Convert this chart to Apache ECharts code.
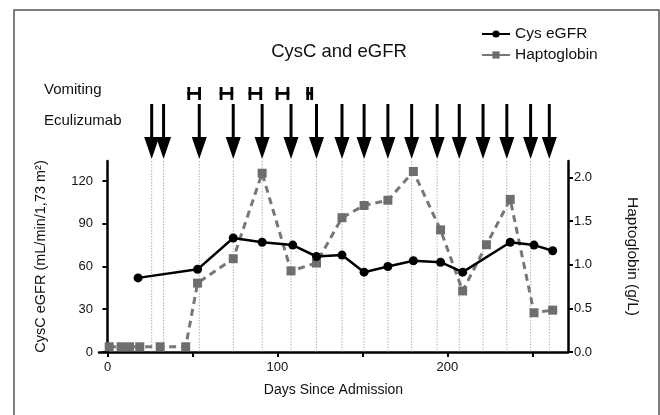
<!DOCTYPE html>
<html><head><meta charset="utf-8">
<script src="https://cdn.jsdelivr.net/npm/echarts@6/dist/echarts.min.js"></script>
<style>html,body{margin:0;padding:0;background:#fff}#c{width:660px;height:415px}</style>
</head><body><div id="c"></div>
<script>
var cysDays = [18, 53, 74, 91, 109, 123, 138, 151, 165, 180, 196, 209, 237, 251, 262];
var cysVals = [52, 58, 80, 77, 75, 67, 68, 56, 60, 64, 63, 56, 77, 75, 71];
var haptoDays = [1, 8, 13, 19, 31, 46, 53, 74, 91, 108, 123, 138, 151, 165, 180, 196, 209, 223, 237, 251, 262];
var haptoVals = [0.06, 0.06, 0.06, 0.06, 0.06, 0.06, 0.79, 1.07, 2.05, 0.93, 1.02, 1.54, 1.68, 1.74, 2.07, 1.40, 0.70, 1.23, 1.75, 0.45, 0.48];
var eculizumabDays = [26, 33, 54, 74, 91, 108, 123, 138, 151, 165, 179, 194, 207, 221, 235, 249, 260];
var vomitingStart = [47, 66, 83, 99, 117];
var vomitingEnd = [55, 74, 91, 107, 121];
var xTicks = [0, 50, 100, 150, 200, 250];
var xLabels = [0, 100, 200];
var leftTicks = [0, 30, 60, 90, 120];
var rightTicks = [0, 0.5, 1.0, 1.5, 2.0];

var FONT = 'Liberation Sans';
var chart = echarts.init(document.getElementById('c'));
var cysData = cysDays.map(function (d, i) { return [d, cysVals[i]]; });
var haptoData = haptoDays.map(function (d, i) { return [d, haptoVals[i]]; });
var vomData = vomitingStart.map(function (s, i) { return [s, vomitingEnd[i]]; });

chart.setOption({
  animation: false,
  textStyle: { fontFamily: FONT, color: '#111' },
  title: {
    text: 'CysC and eGFR', left: 334, top: 37, textAlign: 'center',
    textStyle: { fontFamily: FONT, fontSize: 18.5, fontWeight: 'normal', color: '#111' }
  },
  legend: {
    orient: 'vertical', left: 476, top: 21, itemWidth: 28, itemHeight: 9, itemGap: 5,
    textStyle: { fontFamily: FONT, fontSize: 15.5, color: '#111' },
    data: [
      { name: 'Cys eGFR' },
      { name: 'Haptoglobin', lineStyle: { type: 'solid' } }
    ]
  },
  graphic: [
    { type: 'rect', shape: { x: 14, y: 10, width: 645, height: 420 }, style: { fill: 'none', stroke: '#555', lineWidth: 1.5 }, silent: true },
    { type: 'text', left: 44, top: 82, style: { text: 'Vomiting', font: '15px "' + FONT + '"', fill: '#111' } },
    { type: 'text', left: 44, top: 113, style: { text: 'Eculizumab', font: '15px "' + FONT + '"', fill: '#111' } }
  ],
  grid: [
    { left: 99, right: 92, top: 161, bottom: 63 },
    { left: 99, right: 92, top: 80, height: 80 }
  ],
  xAxis: [
    {
      type: 'value', gridIndex: 0, min: -5, max: 271,
      name: 'Days Since Admission', nameLocation: 'middle', nameGap: 31,
      nameTextStyle: { fontFamily: FONT, fontSize: 14, color: '#111' },
      axisLine: { onZero: false, lineStyle: { color: '#000', width: 2.5 } },
      axisTick: { customValues: xTicks, length: 5, lineStyle: { color: '#000', width: 2 } },
      axisLabel: { customValues: xLabels, fontFamily: FONT, fontSize: 13, color: '#111', margin: 9 },
      splitLine: { show: false }
    },
    { type: 'value', gridIndex: 1, min: -5, max: 271, show: false }
  ],
  yAxis: [
    {
      type: 'value', gridIndex: 0, min: 0, max: 134,
      name: 'CysC eGFR (mL/min/1,73 m²)', nameLocation: 'middle', nameGap: 51,
      nameTextStyle: { fontFamily: FONT, fontSize: 14.5, color: '#111' },
      axisLine: { show: true, lineStyle: { color: '#000', width: 2.5 } },
      axisTick: { show: true, customValues: leftTicks, length: 5, lineStyle: { color: '#000', width: 2 } },
      axisLabel: { customValues: leftTicks, fontFamily: FONT, fontSize: 13, color: '#111', margin: 6 },
      splitLine: { show: false }
    },
    {
      type: 'value', gridIndex: 0, position: 'right', min: 0, max: 2.19,
      name: 'Haptoglobin (g/L)', nameLocation: 'middle', nameGap: 56, nameRotate: -90,
      nameTextStyle: { fontFamily: FONT, fontSize: 15.5, color: '#111' },
      axisLine: { show: true, lineStyle: { color: '#000', width: 2.5 } },
      axisTick: { show: true, customValues: rightTicks, length: 5, lineStyle: { color: '#000', width: 2 } },
      axisLabel: { customValues: rightTicks, fontFamily: FONT, fontSize: 13, color: '#111', margin: 6,
        formatter: function (v) { return v.toFixed(1); } },
      splitLine: { show: false }
    },
    { type: 'value', gridIndex: 1, min: 0, max: 1, show: false }
  ],
  series: [
    {
      type: 'custom', xAxisIndex: 0, yAxisIndex: 0, z: 1, silent: true,
      data: eculizumabDays.map(function (d) { return [d]; }),
      renderItem: function (params, api) {
        var x = api.coord([api.value(0), 0])[0];
        var y0 = api.coord([api.value(0), 0])[1];
        var y1 = api.coord([api.value(0), 134])[1];
        return { type: 'line', shape: { x1: x, y1: y1, x2: x, y2: y0 },
          style: { stroke: '#b0b0b0', lineWidth: 1, lineDash: [1.5, 1.5] } };
      }
    },
    {
      type: 'custom', xAxisIndex: 1, yAxisIndex: 2, silent: true,
      data: eculizumabDays.map(function (d) { return [d]; }),
      renderItem: function (params, api) {
        var p = api.coord([api.value(0), 0]);
        var x = p[0], b = p[1];
        return { type: 'group', children: [
          { type: 'rect', shape: { x: x - 1.5, y: b - 56, width: 3, height: 36 }, style: { fill: '#000' } },
          { type: 'polygon', shape: { points: [[x - 7.5, b - 23], [x + 7.5, b - 23], [x, b - 1]] }, style: { fill: '#000' } }
        ] };
      }
    },
    {
      type: 'custom', xAxisIndex: 1, yAxisIndex: 2, silent: true,
      data: vomData,
      renderItem: function (params, api) {
        var a = api.coord([api.value(0), 0]);
        var c = api.coord([api.value(1), 0]);
        var b = a[1];
        var xa = a[0], xc = c[0];
        var st = { fill: '#000' };
        return { type: 'group', children: [
          { type: 'rect', shape: { x: xa, y: b - 73, width: 2.8, height: 13 }, style: st },
          { type: 'rect', shape: { x: xc - 2.8, y: b - 73, width: 2.8, height: 13 }, style: st },
          { type: 'rect', shape: { x: xa, y: b - 68, width: xc - xa, height: 2.8 }, style: st }
        ] };
      }
    },
    {
      name: 'Haptoglobin', type: 'line', xAxisIndex: 0, yAxisIndex: 1, z: 3,
      data: haptoData, symbol: 'rect', symbolSize: 9,
      lineStyle: { color: '#777', width: 3, type: [7, 5] },
      itemStyle: { color: '#6e6e6e' }
    },
    {
      name: 'Cys eGFR', type: 'line', xAxisIndex: 0, yAxisIndex: 0, z: 4,
      data: cysData, symbol: 'circle', symbolSize: 9,
      lineStyle: { color: '#000', width: 2.5 },
      itemStyle: { color: '#000' }
    }
  ]
});
</script></body></html>
